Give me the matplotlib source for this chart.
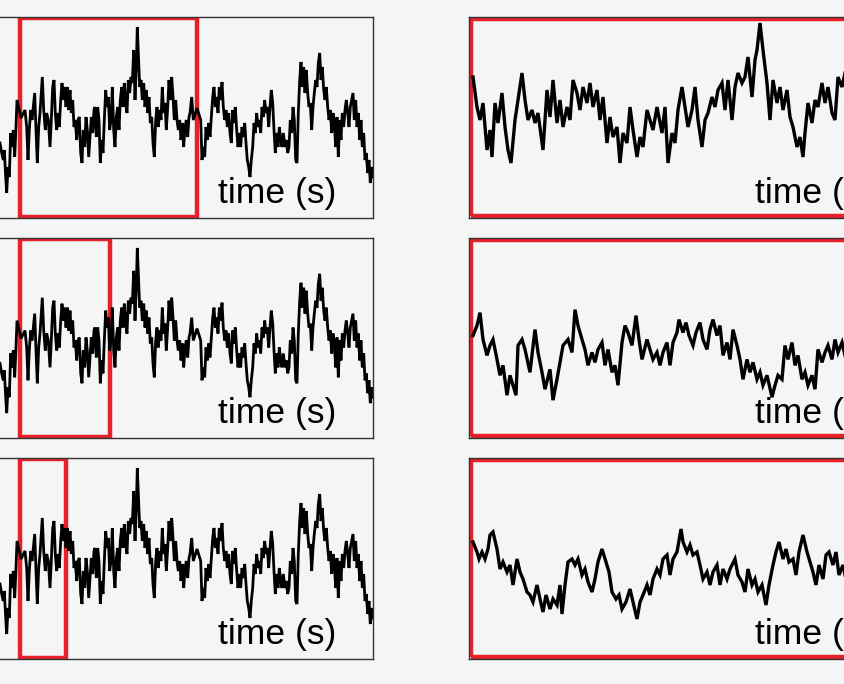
import numpy as np
import matplotlib
matplotlib.use('Agg')
import matplotlib.pyplot as plt
from matplotlib.patches import Rectangle

# long trace shown in the three left panels (time, signal)
t_long = [0, 1.7, 3.3, 4.3, 5.7, 6.7, 8, 9.3, 10.7, 12, 13.3, 14.7, 16, 17, 21, 25,
          26.7, 28, 29.3, 30.7, 32, 33.3, 34.7, 36, 37.3, 38.7, 40, 41.3, 42.3, 43.7,
          45.3, 46.7, 48.3, 50, 51.3, 52.7, 54, 55.3, 56.7, 58, 59.3, 60.7, 62, 63.3,
          64.7, 66, 67.3, 68.7, 70, 71.3, 72.7, 74, 75.3, 76.7, 78, 79.3, 80.7, 82,
          83.3, 84.7, 86, 87.3, 88.7, 90, 91.3, 92.7, 94, 95, 96.3, 97.7, 99, 100.3,
          101.7, 103, 104.3, 105.7, 107, 108.3, 109.7, 111, 112.3, 113.7, 115, 116.3,
          117.7, 119, 120.3, 121.7, 123, 124.3, 125.7, 127, 128.3, 129.7, 131, 132.3,
          133.7, 135, 136.3, 137.3, 138.3, 139.7, 141, 142.3, 143.7, 145, 146.3, 147.7,
          149, 150.3, 151.7, 153, 154.3, 155.7, 157, 158.3, 159.7, 161, 162.3, 163.7,
          165, 166.3, 167.7, 169, 170.3, 171.7, 173, 174.3, 175.7, 177, 178.3, 179.7,
          181, 182.3, 183.7, 185, 186.3, 187.7, 189, 190, 191.7, 193.3, 197, 200.7, 202,
          203.3, 204.7, 206, 207.3, 208.7, 210, 211.3, 212.7, 214, 215.3, 216.7, 218,
          219.3, 220.7, 222, 223.3, 224.7, 226, 227.3, 228.7, 230, 231.3, 232.7, 234,
          235.3, 236.7, 238, 239.3, 240.7, 242, 243.3, 244.7, 246, 247.3, 248.7, 250,
          251.3, 252.7, 254, 255.3, 256.7, 258, 259.3, 260.7, 262, 263.3, 264.7, 266,
          267.3, 268.7, 270, 271.3, 272.7, 274, 275.3, 276.7, 278, 279.3, 280.7, 282,
          283.3, 285, 286.3, 287.7, 289, 290.3, 291.7, 293, 294.3, 295.7, 297, 298.3,
          299.7, 301, 302.3, 303.7, 305, 306.3, 307.7, 309, 310.3, 311.7, 313, 314.3,
          315.7, 317, 318.3, 319.7, 321, 322.3, 323.7, 325, 326.3, 327.7, 329, 330.3,
          331.7, 333, 334.3, 335.7, 337, 338.3, 339.7, 341, 342.3, 343.7, 345, 346.3,
          347.7, 349, 350.3, 351.7, 353, 354.3, 355.7, 357, 358.3, 359.7, 361, 362.3,
          363.7, 365, 366.3, 367.7, 369, 370.3, 371.7, 373]
s_long = [75, 65, 58, 68, 41, 25, 51, 41, 85, 71, 88, 61, 91, 118, 100, 108,
          91, 58, 88, 108, 98, 111, 125, 88, 55, 91, 105, 125, 141, 108,
          88, 105, 98, 71, 98, 131, 138, 105, 88, 105, 91, 118, 135, 118,
          131, 111, 131, 108, 128, 105, 118, 91, 98, 78, 98, 101, 65, 55,
          88, 71, 101, 88, 61, 81, 101, 85, 108, 111, 81, 111, 98, 55,
          78, 65, 98, 128, 111, 121, 88, 98, 131, 88, 71, 101,
          111, 88, 118, 131, 111, 135, 115, 105, 138, 125, 141, 135,
          168, 118, 151, 191, 165, 131, 138, 118, 135, 111, 128, 105,
          121, 95, 101, 75, 61, 98, 111, 91, 108, 98, 131, 105,
          115, 88, 111, 138, 118, 141, 121, 98, 118, 98, 88, 98,
          78, 95, 71, 91, 98, 81, 101, 105, 121, 98, 110, 98, 58,
          71, 61, 91, 78, 95, 81, 101, 121, 131, 111, 121, 105,
          131, 118, 136, 111, 98, 108, 91, 105, 85, 75, 108, 95,
          111, 88, 71, 85, 71, 91, 81, 95, 75, 58, 51, 41,
          58, 71, 95, 85, 105, 91, 98, 85, 111, 101, 118, 105,
          111, 91, 111, 128, 115, 88, 65, 85, 71, 91, 78, 71,
          85, 71, 78, 65, 71, 98, 85, 111, 98, 58, 55, 105,
          138, 156, 131, 151, 125, 148, 125, 111, 115, 88, 111, 125,
          138, 131, 155, 165, 138, 151, 128, 118, 131, 111, 98, 108,
          85, 105, 95, 71, 101, 61, 98, 78, 105, 91, 108, 118,
          105, 91, 111, 118, 125, 98, 118, 91, 105, 78, 98, 71,
          85, 58, 65, 45, 58, 35, 51, 41]

# zoomed windows of the trace (left panels) -> right panels
windows = [(20, 197), (20, 110), (20, 66)]

t_zoom1 = [473, 477, 480, 483, 487, 490, 492, 495, 498, 502, 505, 508, 511, 515, 518, 522,
           525, 528, 532, 535, 538, 543, 547, 550, 553, 557, 560, 563, 567, 570, 573, 577,
           580, 583, 587, 590, 593, 597, 600, 603, 607, 610, 613, 617, 620, 623, 627, 630,
           633, 637, 640, 643, 647, 650, 653, 657, 662, 665, 668, 672, 675, 678, 682, 685,
           688, 692, 695, 698, 702, 705, 708, 712, 715, 718, 722, 725, 728, 732, 735, 738,
           742, 745, 748, 752, 755, 757, 760, 763, 767, 770, 773, 777, 780, 783, 787, 790,
           793, 797, 800, 803, 805, 808, 812, 815, 818, 822, 825, 828, 832, 835, 838, 842, 845]
s_zoom1 = [141, 111, 98, 115, 68, 88, 61, 115, 95, 125, 91, 68, 55, 98, 118, 145, 118, 98,
           108, 95, 105, 68, 128, 101, 138, 95, 118, 91, 111, 98, 138, 125, 108, 131, 115,
           135, 111, 128, 98, 121, 75, 101, 81, 91, 55, 85, 75, 111, 88, 61, 81, 71, 108,
           98, 88, 111, 85, 111, 55, 85, 75, 108, 131, 111, 91, 108, 131, 98, 71, 98, 105,
           121, 111, 128, 135, 108, 138, 98, 131, 145, 135, 141, 161, 121, 158, 168, 195,
           168, 135, 98, 138, 115, 131, 108, 128, 101, 91, 71, 81, 61, 85, 115, 95, 118,
           111, 135, 115, 131, 105, 98, 141, 131, 145]

t_zoom2 = [473, 477, 480, 483, 487, 490, 493, 497, 500, 503, 507, 510, 513, 516, 518, 522,
           525, 530, 535, 538, 542, 545, 550, 553, 557, 560, 563, 568, 572, 575, 578, 582,
           585, 588, 592, 595, 598, 602, 605, 608, 612, 615, 618, 622, 625, 628, 632, 636,
           639, 642, 647, 650, 653, 657, 660, 663, 667, 670, 673, 677, 679, 683, 686, 689,
           693, 696, 700, 703, 707, 710, 713, 717, 720, 723, 727, 730, 733, 737, 740, 743,
           747, 750, 753, 757, 760, 763, 767, 772, 775, 778, 782, 785, 788, 792, 795, 798,
           802, 805, 808, 812, 815, 818, 822, 825, 828, 832, 835, 838, 842, 845]
s_zoom2 = [103, 113, 126, 99, 83, 93, 99, 79, 63, 73, 43, 63, 53, 43, 93, 99, 89, 66, 109,
           86, 66, 49, 69, 38, 59, 76, 93, 99, 86, 129, 113, 99, 89, 73, 86, 76, 89, 96, 73,
           89, 66, 73, 53, 96, 113, 106, 93, 123, 99, 79, 99, 89, 79, 86, 73, 86, 96, 73,
           96, 106, 119, 106, 116, 103, 93, 106, 116, 99, 89, 109, 119, 103, 113, 83, 96,
           79, 109, 93, 79, 59, 79, 66, 76, 59, 66, 53, 63, 41, 53, 63, 59, 93, 79, 96, 73,
           83, 59, 66, 53, 63, 49, 89, 76, 86, 93, 79, 99, 86, 96, 83]

t_zoom3 = [473, 477, 479, 482, 485, 488, 490, 493, 497, 500, 503, 507, 510, 513, 517, 520,
           523, 527, 530, 533, 537, 540, 543, 546, 550, 553, 557, 560, 562, 565, 568, 572,
           575, 578, 582, 585, 588, 592, 595, 598, 602, 606, 609, 612, 616, 619, 622, 626,
           630, 633, 637, 640, 643, 647, 650, 653, 657, 660, 663, 667, 670, 673, 677, 681,
           683, 687, 690, 693, 697, 700, 703, 707, 710, 713, 717, 720, 723, 727, 730, 735,
           738, 742, 745, 748, 752, 755, 758, 762, 766, 769, 773, 776, 779, 783, 786, 789,
           793, 796, 799, 803, 807, 810, 813, 816, 819, 823, 826, 829, 833, 836, 839, 843, 845]
s_zoom3 = [117, 107, 100, 107, 100, 110, 124, 127, 110, 90, 97, 87, 94, 74, 100, 87, 80,
           67, 64, 57, 74, 60, 47, 64, 50, 60, 54, 74, 45, 74, 97, 100, 94, 100, 84, 90, 77,
           67, 80, 97, 110, 97, 87, 67, 60, 64, 50, 57, 70, 57, 40, 57, 64, 74, 64, 80, 90,
           84, 100, 104, 84, 100, 107, 130, 117, 107, 114, 104, 107, 94, 80, 87, 74, 87, 94,
           74, 90, 80, 90, 100, 84, 77, 67, 90, 74, 80, 67, 74, 54, 74, 94, 107, 117, 100,
           110, 97, 100, 84, 107, 124, 107, 97, 87, 74, 94, 80, 104, 107, 94, 107, 84, 94, 84]

t_right = [t_zoom1, t_zoom2, t_zoom3]
s_right = [s_zoom1, s_zoom2, s_zoom3]

bg = '#f4f5f5'
fig = plt.figure(figsize=(8.45, 6.84), dpi=100, facecolor=bg)

W, H = 845.0, 684.0
rows = [(17, 218), (238, 438), (458, 659)]
for i, (top, bot) in enumerate(rows):
    b = 1 - bot / H
    h = (bot - top) / H
    # left column (runs off the left edge of the figure)
    axl = fig.add_axes([-68 / W, b, 441 / W, h], facecolor=bg)
    axl.plot(t_long, s_long, color='black', lw=2.0, solid_joinstyle='miter')
    axl.set_xlim(-68, 373)
    axl.set_ylim(0, 201)
    w0, w1 = windows[i]
    axl.add_patch(Rectangle((w0, 1), w1 - w0, 199, fill=False, edgecolor='#e8202a', lw=3.2))
    axl.text(0.649, 0.075, 'time (s)', transform=axl.transAxes, fontsize=25.5,
             family='Liberation Sans', va='baseline', ha='left')
    # right column (runs off the right edge)
    axr = fig.add_axes([469 / W, b, 441 / W, h], facecolor=bg)
    axr.plot(t_right[i], s_right[i], color='black', lw=2.4, solid_joinstyle='miter')
    axr.set_xlim(469, 910)
    axr.set_ylim(0, 201)
    axr.add_patch(Rectangle((0.004, 0.01), 0.992, 0.98, transform=axr.transAxes, fill=False,
                            edgecolor='#e8202a', lw=3.2))
    axr.text(0.649, 0.075, 'time (s)', transform=axr.transAxes, fontsize=25.5,
             family='Liberation Sans', va='baseline', ha='left')
    for ax in (axl, axr):
        ax.set_xticks([])
        ax.set_yticks([])
        for sp in ax.spines.values():
            sp.set_color('#333333')
            sp.set_linewidth(1.0)

fig.savefig('out.png', dpi=100, facecolor=bg)
